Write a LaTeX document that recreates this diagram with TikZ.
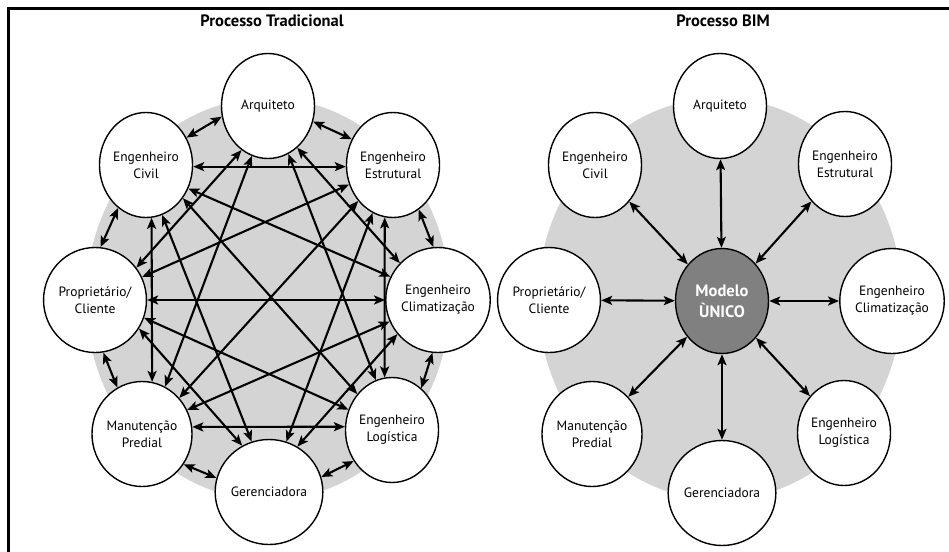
\documentclass[tikz,border=0pt]{standalone}
\usepackage{fontspec}
\setmainfont{PT Sans}
\usetikzlibrary{shapes.geometric,arrows.meta}
\definecolor{diskgray}{RGB}{212,212,212}
\definecolor{modelgray}{RGB}{128,128,128}
\begin{document}
\begin{tikzpicture}[x=1pt,y=-1pt,
  party/.style={ellipse, draw=black, line width=1.4pt, fill=white,
    minimum width=93pt, minimum height=105pt, inner sep=0pt, align=center,
    font=\fontsize{13.5}{17}\selectfont},
  hub/.style={party, fill=modelgray, text=white,
    font=\bfseries\fontsize{16.5}{21}\selectfont},
  link/.style={line width=2.1pt,
    {Stealth[length=11pt,width=9pt,inset=2.5pt]}-{Stealth[length=11pt,width=9pt,inset=2.5pt]}},
  ttl/.style={font=\bfseries\fontsize{16.5}{18}\selectfont, inner sep=0pt}
]
\useasboundingbox (0,0) rectangle (949,551);
\fill[white] (0,0) rectangle (949,551);
\draw[line width=2.2pt] (8.5,552) -- (8.5,8.5) -- (950,8.5);

% titles
\node[ttl] (t1) at (272,21) {Processo Tradicional};
\node[ttl] (t2) at (723,21) {Processo BIM};

% ---------- left panel ----------
\fill[diskgray] (268,299) ellipse [x radius=182pt, y radius=201pt];
\node[party] (lA)  at (268,106) {Arquiteto};
\node[party] (lCI) at (146,165) {Engenheiro\\Civil};
\node[party] (lES) at (393,165) {Engenheiro\\Estrutural};
\node[party] (lPR) at (95,300)  {Proprietário/\\Cliente};
\node[party] (lCL) at (438,300) {Engenheiro\\Climatização};
\node[party] (lMA) at (142,434) {Manutenção\\Predial};
\node[party] (lLO) at (392,430) {Engenheiro\\Logística};
\node[party] (lGE) at (269,492) {Gerenciadora};

% neighbours
\draw[link] (lA.193) -- (lCI.34);
\draw[link] (lA.341) -- (lES.148);
\draw[link] (lES.300) -- (lCL.95);
\draw[link] (lCL.264) -- (lLO.55);
\draw[link] (lLO.219) -- (lGE.16);
\draw[link] (lGE.165) -- (lMA.324);
\draw[link] (lMA.118) -- (lPR.279);
\draw[link] (lPR.84) -- (lCI.237);
% chords
\draw[link] (lCI.-2) -- (lES.182);
\draw[link] (lCI.331) -- (lCL.154);
\draw[link] (lCI.318) -- (lLO.134);
\draw[link] (lCI.288) -- (lGE.109);
\draw[link] (lCI.276.6) -- (lMA.79);
\draw[link] (lA.239) -- (lPR.38);
\draw[link] (lA.252) -- (lMA.64);
\draw[link] (lA.293) -- (lLO.108);
\draw[link] (lA.305) -- (lCL.136);
\draw[link] (lPR.26) -- (lES.204);
\draw[link] (lPR.0) -- (lCL.180);
\draw[link] (lPR.340) -- (lLO.155);
\draw[link] (lPR.327) -- (lGE.120);
\draw[link] (lMA.44) -- (lES.226);
\draw[link] (lMA.28) -- (lCL.204);
\draw[link] (lMA.8.7) -- (lLO.176);
\draw[link] (lES.247) -- (lGE.71);
\draw[link] (lES.261) -- (lLO.98);
\draw[link] (lCL.220) -- (lGE.58);

% ---------- right panel ----------
\fill[diskgray] (720,299) ellipse [x radius=182pt, y radius=201pt];
\node[party] (rA)  at (720,106) {Arquiteto};
\node[party] (rCI) at (595,165) {Engenheiro\\Civil};
\node[party] (rES) at (845,164) {Engenheiro\\Estrutural};
\node[party] (rPR) at (549,300) {Proprietário/\\Cliente};
\node[party] (rCL) at (892,301) {Engenheiro\\Climatização};
\node[party] (rMA) at (592,434) {Manutenção\\Predial};
\node[party] (rLO) at (844,433) {Engenheiro\\Logística};
\node[party] (rGE) at (722,493) {Gerenciadora};
\node[hub]   (rM)  at (722,301) {Modelo\\ÙNICO};

\foreach \n in {rA,rCI,rES,rPR,rCL,rMA,rLO,rGE}
  \draw[link] (rM) -- (\n);
\end{tikzpicture}
\end{document}
